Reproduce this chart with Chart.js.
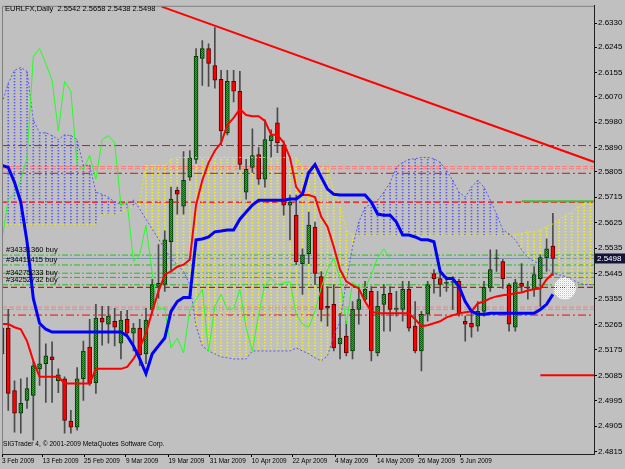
<!DOCTYPE html>
<html><head><meta charset="utf-8">
<script src="https://cdn.jsdelivr.net/npm/chart.js@4/dist/chart.umd.min.js"></script>
<style>html,body{margin:0;padding:0;background:#c0c0c0;overflow:hidden}canvas{display:block}</style>
</head><body>
<canvas id="c" width="625" height="469"></canvas>
<script>
// ---------- data ----------
const chartTitle = 'EURLFX,Daily  2.5542 2.5658 2.5438 2.5498';
const copyright = 'SIGTrader 4, \u00A9 2001-2009 MetaQuotes Software Corp.';

const openP = [
2.5161,2.5252,2.5031,2.4951,2.4996,2.5014,2.5108,2.5126,2.5150,2.5066,
2.5073,2.4923,2.4902,2.5073,2.5185,2.5059,2.5287,2.5266,2.5276,2.5199,
2.5283,2.5234,2.5252,2.5161,2.5318,2.5399,2.5406,2.5557,2.5739,2.5683,
2.5785,2.5848,2.6205,2.6240,2.6180,2.6131,2.5942,2.6124,2.6089,2.5732,
2.5820,2.5865,2.5778,2.5914,2.5977,2.5900,2.5686,2.5651,2.5480,2.5515,
2.5609,2.5434,2.5329,2.5336,2.5196,2.5224,2.5171,2.5318,2.5353,2.5382,
2.5164,2.5336,2.5375,2.5318,2.5318,2.5389,2.5259,2.5171,2.5301,2.5445,
2.5427,2.5410,2.5413,2.5417,2.5276,2.5269,2.5259,2.5311,2.5396,2.5497,
2.5487,2.5403,2.5255,2.5410,2.5396,2.5389,2.5427,2.5501,2.5542];
const highP = [
2.5269,2.5318,2.5066,2.5073,2.5077,2.5136,2.5259,2.5196,2.5203,2.5108,
2.5080,2.4961,2.5112,2.5206,2.5283,2.5336,2.5329,2.5329,2.5322,2.5311,
2.5315,2.5269,2.5283,2.5322,2.5424,2.5547,2.5596,2.5750,2.5750,2.5876,
2.5879,2.6240,2.6268,2.6257,2.6314,2.6163,2.6163,2.6163,2.6159,2.5848,
2.5956,2.5890,2.5988,2.5953,2.6030,2.5914,2.5722,2.5722,2.5532,2.5662,
2.5627,2.5452,2.5399,2.5406,2.5304,2.5276,2.5346,2.5399,2.5417,2.5399,
2.5382,2.5406,2.5399,2.5382,2.5417,2.5417,2.5346,2.5311,2.5417,2.5459,
2.5452,2.5434,2.5434,2.5424,2.5294,2.5311,2.5346,2.5417,2.5529,2.5529,
2.5494,2.5410,2.5424,2.5480,2.5417,2.5469,2.5511,2.5567,2.5658];
const lowP = [
2.5129,2.4961,2.4884,2.4881,2.4968,2.4856,2.5049,2.4989,2.4989,2.5024,
2.4881,2.4881,2.4891,2.4996,2.5049,2.5021,2.5192,2.5199,2.5189,2.5143,
2.5220,2.5171,2.5119,2.5126,2.5304,2.5358,2.5382,2.5452,2.5655,2.5655,
2.5774,2.5834,2.6110,2.6106,2.6100,2.5900,2.5935,2.6051,2.5813,2.5708,
2.5802,2.5760,2.5750,2.5855,2.5872,2.5651,2.5564,2.5476,2.5371,2.5480,
2.5406,2.5276,2.5259,2.5171,2.5143,2.5154,2.5143,2.5266,2.5346,2.5136,
2.5154,2.5241,2.5241,2.5294,2.5276,2.5241,2.5164,2.5101,2.5276,2.5375,
2.5364,2.5382,2.5318,2.5294,2.5206,2.5220,2.5241,2.5294,2.5382,2.5452,
2.5392,2.5241,2.5241,2.5382,2.5354,2.5364,2.5329,2.5452,2.5438];
const closeP = [
2.5252,2.5021,2.4951,2.4986,2.5038,2.5119,2.5126,2.5154,2.5140,2.5087,
2.4926,2.4902,2.5073,2.5171,2.5056,2.5287,2.5273,2.5294,2.5255,2.5280,
2.5234,2.5252,2.5157,2.5280,2.5406,2.5410,2.5564,2.5708,2.5725,2.5774,
2.5855,2.6212,2.6240,2.6187,2.6128,2.5949,2.6124,2.6089,2.5830,2.5813,
2.5862,2.5778,2.5918,2.5932,2.5907,2.5686,2.5697,2.5487,2.5511,2.5616,
2.5445,2.5318,2.5322,2.5182,2.5217,2.5164,2.5318,2.5353,2.5389,2.5171,
2.5329,2.5371,2.5318,2.5320,2.5389,2.5252,2.5171,2.5301,2.5406,2.5427,
2.5406,2.5412,2.5415,2.5301,2.5266,2.5255,2.5311,2.5396,2.5459,2.5499,
2.5427,2.5266,2.5413,2.5399,2.5393,2.5441,2.5501,2.5532,2.5498];

// Ichimoku lines
const tenkan = [
2.5266,2.5266,2.5255,2.5248,2.5206,2.5136,2.5080,2.5080,2.5080,2.5080,
2.5056,2.5056,2.5056,2.5056,2.5056,2.5108,2.5108,2.5108,2.5108,2.5108,
2.5115,2.5143,2.5182,2.5234,2.5311,2.5382,2.5441,2.5452,2.5469,2.5476,
2.5494,2.5687,2.5774,2.5837,2.5879,2.5907,2.5970,2.5995,2.6026,2.6005,
2.6001,2.6001,2.5984,2.5935,2.5935,2.5907,2.5855,2.5750,2.5722,2.5722,
2.5715,2.5645,2.5610,2.5539,2.5459,2.5417,2.5403,2.5392,2.5346,2.5311,
2.5304,2.5304,2.5304,2.5304,2.5304,2.5304,2.5283,2.5259,2.5262,2.5269,
2.5276,2.5290,2.5297,2.5304,2.5308,2.5311,2.5339,2.5346,2.5357,2.5364,
2.5368,2.5371,2.5375,2.5378,2.5385,2.5389,2.5392,2.5424,2.5445];
const kijun = [
2.5827,2.5820,2.5767,2.5697,2.5557,2.5357,2.5269,2.5248,2.5238,2.5238,
2.5238,2.5238,2.5238,2.5238,2.5238,2.5238,2.5238,2.5238,2.5238,2.5238,
2.5224,2.5189,2.5143,2.5091,2.5161,2.5189,2.5217,2.5311,2.5346,2.5360,
2.5360,2.5564,2.5567,2.5574,2.5592,2.5595,2.5599,2.5599,2.5637,2.5662,
2.5687,2.5704,2.5704,2.5704,2.5704,2.5704,2.5708,2.5708,2.5725,2.5802,
2.5830,2.5785,2.5743,2.5725,2.5722,2.5722,2.5722,2.5722,2.5722,2.5697,
2.5655,2.5651,2.5651,2.5627,2.5581,2.5581,2.5574,2.5564,2.5564,2.5557,
2.5452,2.5427,2.5427,2.5399,2.5346,2.5311,2.5301,2.5301,2.5304,2.5304,
2.5304,2.5304,2.5304,2.5304,2.5304,2.5304,2.5318,2.5336,2.5371];
const senkouA = [
2.6047,2.6117,2.6163,2.6173,2.6159,2.5988,2.5942,2.5942,2.5932,2.5918,
2.5935,2.5932,2.5918,2.5827,2.5827,2.5732,2.5725,2.5715,2.5697,2.5690,
2.5690,2.5704,2.5673,2.5637,2.5602,2.5567,2.5532,2.5497,2.5476,2.5452,
2.5406,2.5259,2.5189,2.5171,2.5161,2.5150,2.5147,2.5143,2.5143,2.5143,
2.5171,2.5171,2.5171,2.5171,2.5171,2.5171,2.5171,2.5182,2.5171,2.5161,
2.5147,2.5136,2.5154,2.5224,2.5276,2.5417,2.5539,2.5627,2.5679,2.5690,
2.5704,2.5732,2.5767,2.5820,2.5837,2.5848,2.5851,2.5855,2.5855,2.5851,
2.5837,2.5809,2.5774,2.5732,2.5715,2.5750,2.5774,2.5750,2.5704,2.5655,
2.5599,2.5585,2.5564,2.5529,2.5501,2.5487,2.5480,2.5466,2.5445,2.5441,
2.5434,2.5424,2.5413,2.5406,2.5406,2.5406];
const senkouB = [
2.5617,2.5617,2.5617,2.5617,2.5617,2.5617,2.5617,2.5617,2.5617,2.5617,
2.5617,2.5617,2.5617,2.5617,2.5617,2.5617,2.5655,2.5655,2.5655,2.5662,
2.5673,2.5683,2.5697,2.5827,2.5827,2.5827,2.5827,2.5848,2.5855,2.5855,
2.5855,2.5855,2.5855,2.5855,2.5855,2.5855,2.5855,2.5855,2.5855,2.5855,
2.5855,2.5855,2.5855,2.5855,2.5855,2.5855,2.5855,2.5855,2.5820,2.5820,
2.5820,2.5820,2.5820,2.5732,2.5687,2.5599,2.5581,2.5581,2.5581,2.5581,
2.5581,2.5581,2.5581,2.5581,2.5581,2.5581,2.5581,2.5581,2.5581,2.5581,
2.5581,2.5581,2.5581,2.5581,2.5581,2.5581,2.5581,2.5581,2.5581,2.5581,
2.5581,2.5581,2.5581,2.5585,2.5592,2.5592,2.5599,2.5610,2.5620,2.5634,
2.5651,2.5662,2.5680,2.5690,2.5697,2.5697];
const chikouShift = 26;

// axis ticks
const yTicks = [2.6330,2.6245,2.6155,2.6070,2.5980,2.5890,2.5805,2.5715,2.5625,2.5535,2.5445,2.5355,2.5265,2.5175,2.5085,2.4995,2.4905,2.4815];
const xTickLabels = ['3 Feb 2009','13 Feb 2009','25 Feb 2009','9 Mar 2009','19 Mar 2009','31 Mar 2009','10 Apr 2009','22 Apr 2009','4 May 2009','14 May 2009','26 May 2009','5 Jun 2009'];
const xTickBars = [0,6.5,13.1,19.8,26.6,33.2,39.9,46.4,53.2,59.9,66.5,73.2];

// horizontal objects
const redDashDotLevels = [2.5897, 2.5799, 2.5298];
const pinkDashLevels = [2.5823, 2.5815, 2.5326, 2.5318];
const redDashLevels = [2.5697, 2.5396];
const greenOrderLevels = [2.5510, 2.5475, 2.5446, 2.5431, 2.5405];
const orderTickets = ['#34331360 buy', '#34411415 buy', '#34275233 buy', '#34252732 buy'];
const orderTicketPrices = [2.5510, 2.5475, 2.5431, 2.5405];
const greenSolidLevel = {fromBar: 83, price: 2.5700};
const redSolidLevel = {fromBar: 86, price: 2.5085};
const trendBars = [25.5, 94.6];
const trendPrices = [2.6388, 2.5839];
const ellipseMark = {bar: 89.9, price: 2.5392};

// ---------- view ----------
const X_MIN = 0, X_MAX = 94.57, Y_MIN = 2.4807, Y_MAX = 2.6391;
const FONT = '"Liberation Sans", Arial, sans-serif';

function makePattern(w, h, px) {
  const c = document.createElement('canvas'); c.width = w; c.height = h;
  const g = c.getContext('2d');
  px.forEach(([x, y, col]) => { g.fillStyle = col; g.fillRect(x, y, 1, 1); });
  return g.createPattern(c, 'repeat');
}
const blueHatch = makePattern(1, 3, [[0, 0, '#5a5af5'], [0, 1, 'rgba(90,90,245,0.35)']]);
const yellowHatch = makePattern(1, 3, [[0, 0, '#f4f400'], [0, 1, 'rgba(244,244,0,0.35)']]);
const greenBody = makePattern(2, 2, [[0,0,'#0a6a0a'],[1,1,'#0a6a0a'],[1,0,'#3aa83a'],[0,1,'#3aa83a']]);
const whiteDots = makePattern(2, 2, [[0,0,'#ffffff'],[1,1,'#ffffff'],[1,0,'#e8e8e8']]);

const wicks = closeP.map((c, i) => ({x: i, y: [lowP[i], highP[i]]}));
const bodies = closeP.map((c, i) => ({x: i, y: [openP[i], c]}));
const hatchBlue = senkouA.map((a, i) => ({x: i, y: a >= senkouB[i] ? [senkouB[i], a] : null}));
const hatchYellow = senkouA.map((a, i) => ({x: i, y: a < senkouB[i] ? [a, senkouB[i]] : null}));
const toXY = arr => arr.map((v, i) => ({x: i, y: v}));
const chikou = closeP.slice(chikouShift).map((v, i) => ({x: i, y: v}));
const hline = (p, from = X_MIN, to = X_MAX) => [{x: from, y: p}, {x: to, y: p}];

const lineDs = (data, color, width, dash, order) => ({
  type: 'line', data, borderColor: color, borderWidth: width, borderDash: dash || [],
  pointRadius: 0, tension: 0, fill: false, order
});

const datasets = [];
redDashDotLevels.forEach(l => datasets.push(lineDs(hline(l), '#ff0000', 1, [8,3,2,3], 80)));
pinkDashLevels.forEach(l => datasets.push(lineDs(hline(l), '#ff7a7a', 1, [5,2], 80)));
redDashLevels.forEach(l => datasets.push(lineDs(hline(l), '#ff0000', 1.3, [6,3], 80)));
greenOrderLevels.forEach(l => datasets.push(lineDs(hline(l), '#1fc01f', 1, [6,2,2,2], 80)));
datasets.push(lineDs(hline(closeP[closeP.length - 1]), '#7b93ad', 1, [], 79));
datasets.push({type: 'bar', data: hatchBlue, backgroundColor: blueHatch, barThickness: 1, grouped: false, order: 70});
datasets.push({type: 'bar', data: hatchYellow, backgroundColor: yellowHatch, barThickness: 1, grouped: false, order: 70});
datasets.push({type: 'bar', data: wicks, backgroundColor: '#4a4a4a', barThickness: 1, grouped: false, order: 60});
datasets.push({type: 'bar', data: bodies, grouped: false, order: 59, barThickness: 4, minBarLength: 1,
  borderSkipped: false, borderWidth: 1,
  backgroundColor: ctx => (closeP[ctx.dataIndex] >= openP[ctx.dataIndex] ? greenBody : '#ff0000'),
  borderColor: ctx => (closeP[ctx.dataIndex] >= openP[ctx.dataIndex] ? '#063806' : '#5a0000')});
datasets.push(lineDs(toXY(senkouA), '#5858f0', 1, [2,2], 40));
datasets.push(lineDs(toXY(senkouB), '#ecec00', 1, [2,2], 40));
datasets.push(lineDs(chikou, '#22ff22', 1, [], 35));
datasets.push(lineDs(toXY(tenkan), '#ff0000', 2, [], 30));
datasets.push(lineDs(toXY(kijun), '#0000ff', 3, [], 29));
datasets.push(lineDs(trendBars.map((b, i) => ({x: b, y: trendPrices[i]})), '#ff0000', 2, [], 10));
datasets.push(lineDs(hline(greenSolidLevel.price, greenSolidLevel.fromBar), '#3cc03c', 2, [], 12));
datasets.push(lineDs(hline(redSolidLevel.price, redSolidLevel.fromBar), '#ff0000', 2, [], 12));
datasets.push({type: 'line', showLine: false, data: [{x: ellipseMark.bar, y: ellipseMark.price}],
  pointRadius: 11, pointBackgroundColor: whiteDots, pointBorderWidth: 0, order: 5});

const deco = {
  id: 'deco',
  beforeDraw(chart) {
    const g = chart.ctx; g.save(); g.fillStyle = '#c0c0c0'; g.fillRect(0, 0, chart.width, chart.height); g.restore();
  },
  afterDraw(chart) {
    const g = chart.ctx, a = chart.chartArea, ys = chart.scales.y;
    g.save();
    g.strokeStyle = '#808080'; g.lineWidth = 1;
    g.beginPath(); g.moveTo(a.left + 0.5, a.bottom); g.lineTo(a.left + 0.5, a.top + 0.5); g.lineTo(a.right, a.top + 0.5); g.stroke();
    g.fillStyle = '#000'; g.textBaseline = 'middle'; g.textAlign = 'left';
    g.font = '7.5px ' + FONT; g.fillText(chartTitle, 5, 8.5);
    g.font = '6.6px ' + FONT; g.fillText(copyright, 3, 444);
    g.font = '7.5px ' + FONT; g.textBaseline = 'bottom';
    orderTickets.forEach((t, i) => g.fillText(t, 6, ys.getPixelForValue(orderTicketPrices[i]) - 1));
    const last = closeP[closeP.length - 1], py = ys.getPixelForValue(last);
    g.fillStyle = '#141438'; g.fillRect(a.right + 1, py - 5, 31, 10);
    g.fillStyle = '#ffffff'; g.textBaseline = 'middle'; g.font = '8px ' + FONT;
    g.fillText(last.toFixed(4), a.right + 3, py + 0.5);
    g.restore();
  }
};

new Chart(document.getElementById('c'), {
  type: 'bar',
  data: {datasets},
  plugins: [deco],
  options: {
    responsive: false, animation: false, devicePixelRatio: 1, events: [],
    layout: {padding: {left: 2, top: 2, right: 0, bottom: 0}, autoPadding: false},
    plugins: {legend: {display: false}, tooltip: {enabled: false}, title: {display: false}},
    scales: {
      x: {
        type: 'linear', min: X_MIN, max: X_MAX, offset: false,
        afterBuildTicks: s => { s.ticks = xTickBars.map(v => ({value: v})); },
        afterFit: s => { s.height = 15; },
        grid: {drawOnChartArea: false, drawTicks: true, tickLength: 3, color: '#000', offset: false},
        border: {display: true, color: '#202020', width: 1},
        ticks: {align: 'start', autoSkip: false, maxRotation: 0, minRotation: 0, padding: 0,
          color: '#000', font: {family: FONT, size: 6.4}, callback: (v, i) => xTickLabels[i]}
      },
      y: {
        type: 'linear', position: 'right', min: Y_MIN, max: Y_MAX,
        afterBuildTicks: s => { s.ticks = yTicks.map(v => ({value: v})); },
        afterFit: s => { s.width = 31; },
        grid: {drawOnChartArea: false, drawTicks: true, tickLength: 3, color: '#000'},
        border: {display: true, color: '#202020', width: 1},
        ticks: {autoSkip: false, padding: 1, color: '#000', font: {family: FONT, size: 8},
          callback: v => v.toFixed(4)}
      }
    }
  }
});
</script>
</body></html>
